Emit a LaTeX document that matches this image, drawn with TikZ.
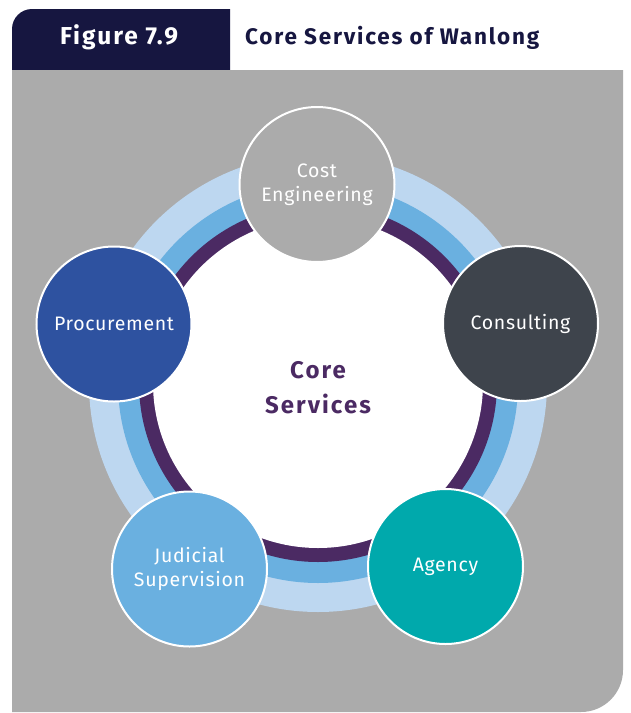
\documentclass[tikz,border=0pt]{standalone}
\usepackage{fontspec}
\setmainfont{Fira Sans}
\newfontfamily\circfont[LetterSpace=3.5]{Fira Sans}
\newfontfamily\headfont[LetterSpace=8]{Fira Sans}
\newfontfamily\corefont[LetterSpace=8.5]{Fira Sans}
\definecolor{navy}{RGB}{22,22,64}
\definecolor{panelgray}{RGB}{171,171,171}
\definecolor{ringlight}{RGB}{189,215,240}
\definecolor{ringmid}{RGB}{106,176,224}
\definecolor{ringpurple}{RGB}{75,42,99}
\definecolor{costgray}{RGB}{171,171,171}
\definecolor{procblue}{RGB}{46,82,160}
\definecolor{consdark}{RGB}{62,68,76}
\definecolor{agencyteal}{RGB}{0,169,172}
\definecolor{judblue}{RGB}{106,176,224}
\tikzset{
  svc/.style={circle, draw=white, line width=2pt, minimum size=155pt, inner sep=0pt,
    text=white, align=center, font=\circfont\fontsize{19.5}{23.5}\selectfont},
  ringdisk/.style={circle, inner sep=0pt, draw=none},
}
\begin{document}
\begin{tikzpicture}[x=1pt,y=-1pt]
\useasboundingbox (0,0) rectangle (630,713);
\fill[white] (0,0) rectangle (630,713);
% header tab
\fill[navy] (12,70) -- (12,29) arc[start angle=180,end angle=270,radius=20] -- (230,9) -- (230,70) -- cycle;
\node[anchor=base, inner sep=0pt, text=white, font=\headfont\fontsize{24.5}{26}\selectfont\bfseries] (fig) at (119,44) {Figure 7.9};
\node[anchor=base west, inner sep=0pt, text=navy, font=\headfont\fontsize{22.5}{24}\selectfont\bfseries] (title) at (245,44) {Core Services of Wanlong};
% panel
\fill[panelgray] (12,70) -- (623,70) -- (623,670) arc[start angle=0,end angle=90,radius=42] -- (12,712) -- cycle;
% rings
\node[ringdisk, fill=ringlight, minimum size=458pt] (r1) at (318,383) {};
\node[ringdisk, fill=ringmid, minimum size=400pt] (r2) at (318,383) {};
\node[ringdisk, fill=ringpurple, minimum size=358pt] (r3) at (318,383) {};
\node[ringdisk, fill=white, minimum size=330pt] (r4) at (318,383) {};
\node[text=ringpurple, align=center, font=\corefont\fontsize{24}{35}\selectfont\bfseries] (core) at (318,388) {Core\\Services};
% service circles
\node[svc, fill=costgray] (cost) at (317,184.5) {Cost\\Engineering};
\node[svc, fill=consdark] (cons) at (520.5,323.5) {Consulting};
\node[svc, fill=procblue] (proc) at (114,324) {Procurement};
\node[svc, fill=agencyteal] (agency) at (445.5,566.5) {Agency};
\node[svc, fill=judblue] (jud) at (189.5,569) {Judicial\\Supervision};
\end{tikzpicture}
\end{document}
